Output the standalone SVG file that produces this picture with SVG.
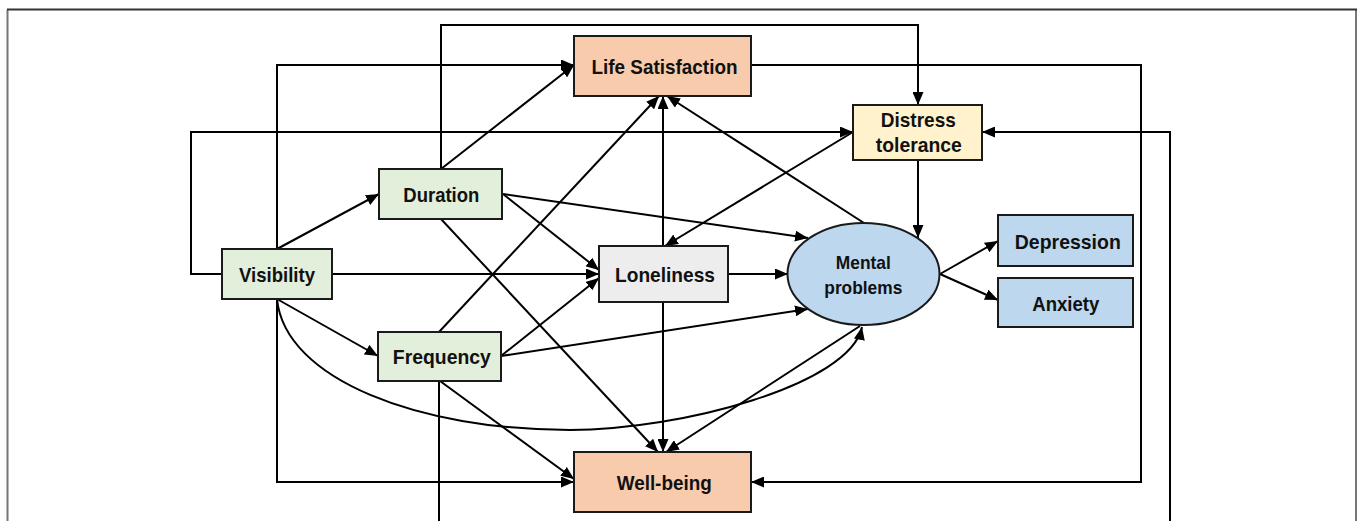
<svg xmlns="http://www.w3.org/2000/svg" width="1358" height="521" viewBox="0 0 1358 521">
<defs>
<marker id="ah" markerUnits="userSpaceOnUse" markerWidth="13" markerHeight="11" refX="13" refY="5.5" orient="auto">
<path d="M0,0 L13,5.5 L0,11 z" fill="#000"/>
</marker>
<style>
.frame{fill:none;stroke:#777;stroke-width:2}
.frametop{fill:none;stroke:#333;stroke-width:2}
.box{stroke:#1a1a1a;stroke-width:2}
.green{fill:#E2EFDA}
.peach{fill:#F8CBAD}
.yellow{fill:#FFF2CC}
.grey{fill:#EDEDED}
.blue{fill:#BDD7EE}
.t{font-family:"Liberation Sans",Arial,sans-serif;font-weight:bold;font-size:20.5px;fill:#111;text-anchor:middle}
.ts{font-size:18.5px}
.c{fill:none;stroke:#000;stroke-width:2}
.c path,.c line{marker-end:url(#ah)}
</style>
</defs>
<rect width="1358" height="521" fill="#fff"/>
<path class="frame" d="M7.5,521 V10 M1356,10 V521"/>
<path class="frametop" d="M7,9.5 H1357"/>

<g id="connectors" class="c">
<path d="M441,169 V25 H918 V105"/>
<path d="M277,249 V65 H574"/>
<path d="M751,65 H1141 V482 H751"/>
<path d="M222,274 H191 V132 H853"/>
<path d="M439,381 V540 H1170 V132 H982"/>
<line x1="277" y1="249" x2="379" y2="194"/>
<line x1="441" y1="169" x2="574" y2="65"/>
<line x1="332" y1="274" x2="599" y2="274"/>
<line x1="277" y1="299" x2="378" y2="356"/>
<path d="M277,299 V482 H574"/>
<path d="M277,299 C285,380 420,430 570,430 C680,430 850,385 862,327"/>
<line x1="503" y1="194" x2="808" y2="238"/>
<line x1="503" y1="194" x2="599" y2="270"/>
<line x1="441" y1="219" x2="658" y2="452"/>
<line x1="439" y1="332" x2="659" y2="96"/>
<line x1="501" y1="356" x2="599" y2="278"/>
<line x1="501" y1="356" x2="808" y2="309"/>
<line x1="440" y1="381" x2="574" y2="479"/>
<line x1="663" y1="246" x2="663" y2="96"/>
<line x1="864" y1="223" x2="667" y2="96"/>
<line x1="853" y1="132" x2="665" y2="246"/>
<line x1="918" y1="160" x2="918" y2="238"/>
<line x1="728" y1="274" x2="788" y2="274"/>
<line x1="663" y1="302" x2="663" y2="452"/>
<line x1="860" y1="326" x2="666" y2="452"/>
<line x1="940" y1="274" x2="998" y2="241"/>
<line x1="940" y1="274" x2="998" y2="300"/>
</g>

<g id="life-satisfaction">
<rect class="box peach" x="574" y="36" width="177" height="60"/>
<text class="t" x="664.5" y="74" textLength="146" lengthAdjust="spacingAndGlyphs">Life Satisfaction</text>
</g>
<g id="distress-tolerance">
<rect class="box yellow" x="853" y="105" width="129" height="55"/>
<text class="t" x="918.3" y="127" textLength="75" lengthAdjust="spacingAndGlyphs">Distress</text>
<text class="t" x="918.8" y="152" textLength="86" lengthAdjust="spacingAndGlyphs">tolerance</text>
</g>
<g id="duration">
<rect class="box green" x="379" y="169" width="123" height="50"/>
<text class="t" x="441.3" y="202" textLength="76" lengthAdjust="spacingAndGlyphs">Duration</text>
</g>
<g id="visibility">
<rect class="box green" x="222" y="249" width="110" height="50"/>
<text class="t" x="277" y="282" textLength="76" lengthAdjust="spacingAndGlyphs">Visibility</text>
</g>
<g id="frequency">
<rect class="box green" x="378" y="332" width="123" height="49"/>
<text class="t" x="441.8" y="364" textLength="98" lengthAdjust="spacingAndGlyphs">Frequency</text>
</g>
<g id="loneliness">
<rect class="box grey" x="599" y="246" width="129" height="56"/>
<text class="t" x="665" y="282" textLength="100" lengthAdjust="spacingAndGlyphs">Loneliness</text>
</g>
<g id="mental-problems">
<ellipse class="box blue" cx="863.5" cy="274" rx="76" ry="51"/>
<text class="t ts" x="863.3" y="268.5" textLength="55" lengthAdjust="spacingAndGlyphs">Mental</text>
<text class="t ts" x="863.3" y="293.5" textLength="78" lengthAdjust="spacingAndGlyphs">problems</text>
</g>
<g id="well-being">
<rect class="box peach" x="574" y="452" width="177" height="60"/>
<text class="t" x="664.2" y="490" textLength="95" lengthAdjust="spacingAndGlyphs">Well-being</text>
</g>
<g id="depression">
<rect class="box blue" x="998" y="215" width="135" height="51"/>
<text class="t" x="1067.8" y="248.5" textLength="106" lengthAdjust="spacingAndGlyphs">Depression</text>
</g>
<g id="anxiety">
<rect class="box blue" x="998" y="278" width="135" height="49"/>
<text class="t" x="1065.8" y="311" textLength="67" lengthAdjust="spacingAndGlyphs">Anxiety</text>
</g>
</svg>
